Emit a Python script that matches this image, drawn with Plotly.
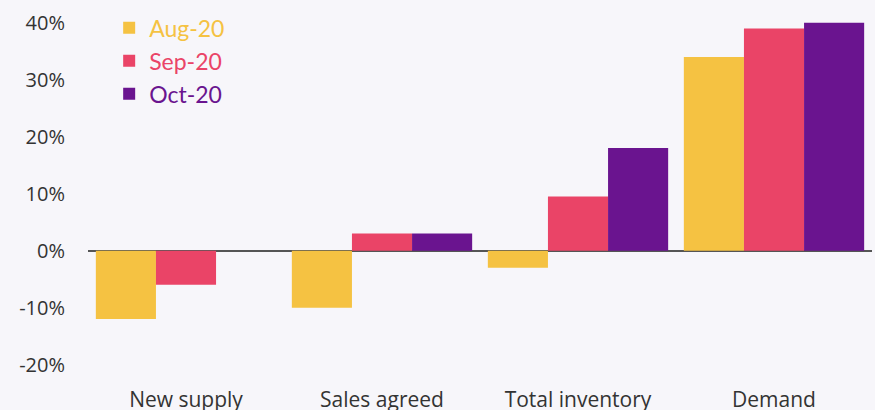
import plotly.graph_objects as go

categories = ["New supply", "Sales agreed", "Total inventory", "Demand"]
series_names = ["Aug-20", "Sep-20", "Oct-20"]
aug = [-12, -10, -3, 34]
sep = [-6, 3, 9.5, 39]
octo = [0, 3, 18, 40]
colors = ["#f5c242", "#ea4467", "#6a148f"]
y_ticks = [-20, -10, 0, 10, 20, 30, 40]
y_tick_labels = ["-20%", "-10%", "0%", "10%", "20%", "30%", "40%"]

fig = go.Figure()
for name, vals, col in zip(series_names, [aug, sep, octo], colors):
    fig.add_trace(go.Bar(
        x=categories, y=vals,
        name=f"<span style='color:{col}'>{name}</span>",
        marker=dict(color=col, line=dict(width=0)),
        legendgroup=name,
    ))

fig.update_layout(
    width=875, height=410,
    paper_bgcolor="#f7f6fa", plot_bgcolor="#f7f6fa",
    margin=dict(l=88, r=3, t=0, b=34, autoexpand=False),
    barmode="group", bargap=0.08, bargroupgap=0,
    font=dict(family="Open Sans", size=20, color="#333333"),
    showlegend=True,
    legend=dict(
        x=0.027, y=0.983, xanchor="left", yanchor="top",
        bgcolor="rgba(0,0,0,0)",
        font=dict(family="Lato", size=23),
        traceorder="grouped", tracegroupgap=0,
        itemwidth=30,
    ),
    xaxis=dict(
        showgrid=False, showline=False, zeroline=False, automargin=False,
        ticks="", ticklabelstandoff=9,
        tickfont=dict(family="Open Sans", size=21, color="#333333"),
    ),
    yaxis=dict(
        range=[-22, 44], showgrid=False, showline=False, automargin=False,
        zeroline=True, zerolinecolor="#555555", zerolinewidth=2,
        tickvals=y_ticks, ticktext=y_tick_labels,
        ticks="", ticklabelstandoff=22,
        tickfont=dict(family="Open Sans", size=20, color="#333333"),
    ),
)

fig.write_html("out.html", config={"displayModeBar": False},
               post_script="document.body.style.margin='0';")
